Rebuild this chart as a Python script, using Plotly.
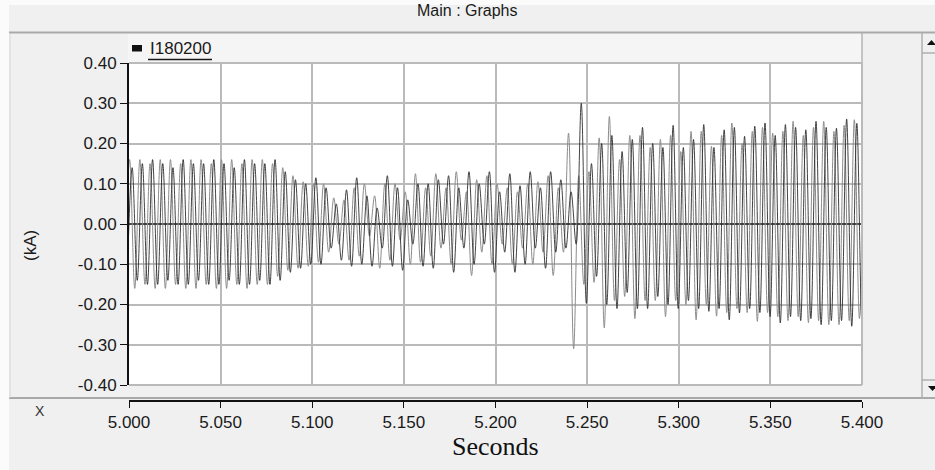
import numpy as np
import plotly.graph_objects as go

W, H = 935, 470

# ---------------- data (kA) ----------------
# extrema of each trace, one peak and one trough per cycle, on the recorder's
# half-cycle time base
HALF_CYCLE = 0.002785
BLACK_T0 = 5.00172
GRAY_T0 = 5.00035

black_peaks = [0.14, 0.15, 0.16, 0.15, 0.14, 0.16, 0.15, 0.15, 0.16, 0.15, 0.14, 0.16, 0.15, 0.15, 0.16,
               0.13, 0.11, 0.10,
               0.115, 0.09, 0.05, 0.085, 0.115, 0.07, 0.04, 0.12, 0.09, 0.06, 0.10, 0.10,
               0.11, 0.12, 0.09, 0.13, 0.10, 0.13, 0.08, 0.125, 0.095, 0.13, 0.09, 0.13, 0.11, 0.08, 0.30,
               0.15, 0.20, 0.22, 0.18, 0.21, 0.24, 0.20, 0.19, 0.245, 0.19, 0.21, 0.247, 0.19, 0.234,
               0.24, 0.218, 0.243, 0.251, 0.22, 0.247, 0.24, 0.234, 0.255, 0.24, 0.238, 0.261, 0.25, 0.24]
black_troughs = [-0.15, -0.14, -0.15, -0.15, -0.14, -0.15, -0.15, -0.14, -0.15, -0.15, -0.14, -0.15, -0.15, -0.14, -0.15,
                 -0.14, -0.12, -0.11,
                 -0.10, -0.10, -0.06, -0.09, -0.105, -0.10, -0.105, -0.06, -0.105, -0.115, -0.05, -0.105,
                 -0.11, -0.05, -0.12, -0.06, -0.10, -0.05, -0.12, -0.07, -0.12, -0.10, -0.06, -0.11, -0.07, -0.06, -0.05,
                 -0.197, -0.13, -0.20, -0.21, -0.17, -0.21, -0.21, -0.18, -0.20, -0.21, -0.19, -0.21, -0.217, -0.21,
                 -0.238, -0.221, -0.21, -0.22, -0.23, -0.246, -0.23, -0.24, -0.235, -0.25, -0.24, -0.24, -0.254, -0.24]
gray_peaks = [0.16, 0.16, 0.15, 0.16, 0.16, 0.15, 0.16, 0.16, 0.15, 0.16, 0.16, 0.15, 0.16, 0.16, 0.15,
              0.14, 0.12, 0.105,
              0.10, 0.10, 0.065, 0.06, 0.09, 0.10, 0.07, 0.10, 0.10, 0.08, 0.125, 0.09,
              0.125, 0.09, 0.13, 0.08, 0.11, 0.12, 0.10, 0.09, 0.08, 0.10, 0.105, 0.12, 0.09, 0.226, 0.12,
              0.13, 0.214, 0.267, 0.16, 0.22, 0.22, 0.19, 0.21, 0.22, 0.18, 0.23, 0.23, 0.193, 0.22,
              0.251, 0.20, 0.23, 0.24, 0.226, 0.23, 0.255, 0.22, 0.24, 0.255, 0.23, 0.245, 0.259, 0.25]
gray_troughs = [-0.16, -0.16, -0.15, -0.16, -0.16, -0.15, -0.16, -0.16, -0.15, -0.16, -0.16, -0.15, -0.16, -0.15, -0.15,
                -0.13, -0.115, -0.11,
                -0.105, -0.095, -0.07, -0.05, -0.09, -0.08, -0.03, -0.11, -0.09, -0.04, -0.10, -0.095,
                -0.08, -0.06, -0.10, -0.04, -0.128, -0.07, -0.10, -0.05, -0.10, -0.06, -0.10, -0.07, -0.128, -0.07, -0.31,
                -0.15, -0.145, -0.258, -0.19, -0.18, -0.235, -0.19, -0.19, -0.23, -0.19, -0.20, -0.238, -0.20, -0.229,
                -0.22, -0.21, -0.22, -0.242, -0.22, -0.23, -0.24, -0.23, -0.245, -0.24, -0.25, -0.25, -0.24, -0.235]

y_tick_vals = [0.4, 0.3, 0.2, 0.1, 0.0, -0.1, -0.2, -0.3, -0.4]
y_tick_labels = ["0.40", "0.30", "0.20", "0.10", "0.00", "-0.10", "-0.20", "-0.30", "-0.40"]
x_tick_vals = [5.0, 5.05, 5.1, 5.15, 5.2, 5.25, 5.3, 5.35, 5.4]
x_tick_labels = ["5.000", "5.050", "5.100", "5.150", "5.200", "5.250", "5.300", "5.350", "5.400"]
series_name = "I180200"


def build(peaks, troughs, t0):
    vals = []
    for tr, pk in zip(troughs, peaks):
        vals += [tr, pk]
    k = np.arange(-1, 2 * len(peaks) - 1)
    return t0 + HALF_CYCLE * k, vals


t_black, v_black = build(black_peaks, black_troughs, BLACK_T0)
t_gray, v_gray = build(gray_peaks, gray_troughs, GRAY_T0)


def px(x):
    return x / W


def py(y):
    return 1 - y / H


SANS = "Liberation Sans, Arial, sans-serif"
SERIF = "Liberation Serif, Times New Roman, serif"

fig = go.Figure()
fig.add_trace(go.Scatter(x=t_gray, y=v_gray, mode="lines",
                         line=dict(color="#8c8c8c", width=1, shape="spline", smoothing=1),
                         hoverinfo="skip", showlegend=False))
fig.add_trace(go.Scatter(x=t_black, y=v_black, mode="lines",
                         line=dict(color="#2e2e2e", width=0.9, shape="spline", smoothing=1),
                         hoverinfo="skip", showlegend=False, name=series_name))
fig.add_trace(go.Scatter(x=[x_tick_vals[0], x_tick_vals[-1]], y=[None, None], xaxis="x2",
                         mode="lines", hoverinfo="skip", showlegend=False))

x_dom = [px(129), px(862)]
y_dom = [py(385), py(63)]

fig.update_layout(
    template="none",
    width=W, height=H, autosize=False,
    margin=dict(l=0, r=0, t=0, b=0, pad=0, autoexpand=False),
    paper_bgcolor="#f0f0f0", plot_bgcolor="#ffffff", showlegend=False,
    xaxis=dict(domain=x_dom, range=[5.0, 5.4], tickvals=x_tick_vals, showticklabels=False,
               ticks="", showgrid=True, gridcolor="#bababa", gridwidth=2, zeroline=False,
               showline=False, automargin=False),
    xaxis2=dict(overlaying="x", anchor="free", position=py(401), range=[5.0, 5.4],
                tickvals=x_tick_vals, ticktext=x_tick_labels, showgrid=False, zeroline=False,
                showline=True, linecolor="#111111", linewidth=1.5, ticks="outside", ticklen=6,
                tickcolor="#111111", tickwidth=1, automargin=False,
                tickfont=dict(family=SANS, size=17, color="#1a1a1a")),
    yaxis=dict(domain=y_dom, range=[-0.4, 0.4], tickvals=y_tick_vals, ticktext=y_tick_labels,
               showgrid=True, gridcolor="#bababa", gridwidth=2, zeroline=True,
               zerolinecolor="#4a4a4a", zerolinewidth=2, showline=True, linecolor="#111111",
               linewidth=2, ticks="outside", ticklen=7, tickcolor="#111111", tickwidth=1,
               automargin=False, tickfont=dict(family=SANS, size=17, color="#1a1a1a")),
)

shapes = []
# outer chrome
shapes.append(dict(type="rect", xref="paper", yref="paper", x0=0, x1=px(9), y0=0, y1=1,
                   fillcolor="#fbfbfb", line=dict(width=0), layer="below"))
shapes.append(dict(type="rect", xref="paper", yref="paper", x0=0, x1=1, y0=py(5), y1=1,
                   fillcolor="#fbfbfb", line=dict(width=0), layer="below"))
shapes.append(dict(type="rect", xref="paper", yref="paper", x0=px(128), x1=px(862), y0=py(63), y1=py(33),
                   fillcolor="#f5f5f5", line=dict(width=0), layer="below"))
for (x0, y0, x1, y1, c, w) in [
    (9, 32.5, 935, 32.5, "#a9a9a9", 2),      # title bar bottom
    (9, 398, 935, 398, "#a9a9a9", 2),        # graph panel bottom
    (10, 33, 10, 398, "#d6d6d6", 1),         # panel left edge
    (862, 33, 862, 63, "#b4b4b4", 1.5),      # legend strip right edge
    (922, 33, 922, 398, "#b0b0b0", 1.5),     # scrollbar edge
    (922, 53, 935, 53, "#b0b0b0", 1.5),
    (922, 380, 935, 380, "#b0b0b0", 1.5),
    (129, 63, 862, 63, "#bababa", 2),        # plot frame
    (862, 63, 862, 385, "#bababa", 2),
    (129, 385, 862, 385, "#bababa", 2),
    (148, 59.5, 212, 59.5, "#1a1a1a", 1.5),  # legend underline
]:
    shapes.append(dict(type="line", xref="paper", yref="paper", x0=px(x0), y0=py(y0),
                       x1=px(x1), y1=py(y1), line=dict(color=c, width=w), layer="above"))
# legend swatch
shapes.append(dict(type="rect", xref="paper", yref="paper", x0=px(132), x1=px(142), y0=py(51.5), y1=py(45),
                   fillcolor="#111111", line=dict(width=0), layer="above"))
# scrollbar arrows
shapes.append(dict(type="path", xref="paper", yref="paper",
                   path=f"M {px(927)} {py(45)} L {px(931.5)} {py(40)} L {px(936)} {py(45)} Z",
                   fillcolor="#111111", line=dict(width=0)))
shapes.append(dict(type="path", xref="paper", yref="paper",
                   path=f"M {px(928)} {py(386)} L {px(932.5)} {py(391)} L {px(937)} {py(386)} Z",
                   fillcolor="#111111", line=dict(width=0)))
fig.update_layout(shapes=shapes)

ann = [
    dict(text="Main : Graphs", x=px(467), y=py(11), font=dict(family=SANS, size=16, color="#1a1a1a")),
    dict(text=series_name, x=px(148), y=py(48), xanchor="left", font=dict(family=SANS, size=17, color="#1a1a1a")),
    dict(text="(kA)", x=px(30), y=py(246), textangle=-90, font=dict(family=SANS, size=17, color="#1a1a1a")),
    dict(text="X", x=px(40), y=py(411), font=dict(family=SANS, size=14, color="#333333")),
    dict(text="Seconds", x=px(495), y=py(446), font=dict(family=SERIF, size=26, color="#111111")),
]
for a in ann:
    a.update(xref="paper", yref="paper", showarrow=False)
    a.setdefault("xanchor", "center")
    a.setdefault("yanchor", "middle")
fig.update_layout(annotations=ann)

fig.write_html("out.html")
